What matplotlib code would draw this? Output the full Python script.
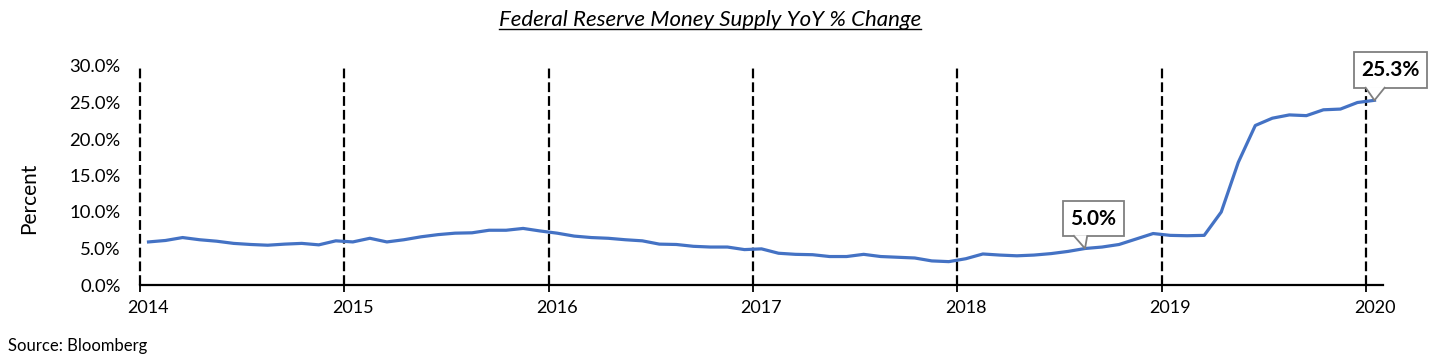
import matplotlib
matplotlib.use('Agg')
import matplotlib.pyplot as plt
import matplotlib.transforms as mtransforms
from matplotlib.patches import Polygon, Rectangle
from matplotlib.lines import Line2D
import numpy as np
import pandas as pd

# monthly YoY % change, Jan 2014 .. Jan 2020
yoy_2014 = [5.9, 6.1, 6.5, 6.2, 6.0, 5.7, 5.55, 5.45, 5.6, 5.7, 5.5, 6.05]
yoy_2015 = [5.9, 6.4, 5.9, 6.2, 6.6, 6.9, 7.1, 7.15, 7.5, 7.5, 7.75, 7.4]
yoy_2016 = [7.1, 6.7, 6.5, 6.4, 6.2, 6.05, 5.6, 5.55, 5.3, 5.2, 5.2, 4.85]
yoy_2017 = [4.95, 4.35, 4.2, 4.15, 3.9, 3.9, 4.2, 3.9, 3.8, 3.7, 3.3, 3.2]
yoy_2018 = [3.6, 4.25, 4.1, 4.0, 4.1, 4.3, 4.6, 5.0, 5.2, 5.55, 6.3, 7.05]
yoy_2019 = [6.8, 6.75, 6.8, 10.0, 16.8, 21.85, 22.85, 23.3, 23.2, 24.0, 24.1, 25.0]
yoy_2020 = [25.3]

years = [2014, 2015, 2016, 2017, 2018, 2019, 2020]
yticks = [0, 5, 10, 15, 20, 25, 30]

# callouts: (month, label)
callouts = [('2018-08', '5.0%'), ('2020-01', '25.3%')]

values = yoy_2014 + yoy_2015 + yoy_2016 + yoy_2017 + yoy_2018 + yoy_2019 + yoy_2020
dates = pd.date_range('2014-01-01', periods=len(values), freq='MS')
df = pd.DataFrame({'date': dates, 'yoy': values})
df['x'] = df['date'].dt.year + (df['date'].dt.month - 0.5) / 12.0

plt.rcParams['font.family'] = ['Lato', 'DejaVu Sans']

W, H = 1437, 357
fig = plt.figure(figsize=(W / 100, H / 100), dpi=100)
ax = fig.add_axes([140 / W, 1 - 285 / H, (1383 - 140) / W, (285 - 66) / H])

blue = '#4472C4'
ax.plot(df['x'], df['yoy'], color=blue, lw=2.3, solid_joinstyle='round', zorder=3)

for yr in years:
    ax.axvline(yr, color='black', lw=1.6, dashes=(4.4, 1.8), zorder=2, clip_on=False)

ax.set_xlim(years[0], years[-1] + 1 / 12)
ax.set_ylim(0, 30)
ax.set_yticks(yticks)
ax.set_yticklabels(['%.1f%%' % v for v in yticks])
ax.set_xticks(years)
ax.set_xticklabels([])
ax.set_xticks([y + 0.5 / 12 for y in years], minor=True)
ax.set_xticklabels([str(y) for y in years], minor=True)
ax.tick_params(axis='x', which='major', length=5, width=1.3, color='black')
ax.tick_params(axis='x', which='minor', length=0, pad=11, labelsize=13)
ax.tick_params(axis='y', length=0, pad=14, labelsize=13.3)

for s in ['top', 'right', 'left']:
    ax.spines[s].set_visible(False)
ax.spines['bottom'].set_linewidth(1.6)
ax.spines['bottom'].set_zorder(4)

fig.text(29 / W, 1 - 198 / H, 'Percent', rotation=90, ha='center', va='center', fontsize=15)
fig.text(8 / W, 1 - 346 / H, 'Source: Bloomberg', ha='left', va='center', fontsize=12)
title = fig.text(710 / W, 1 - 20 / H, 'Federal Reserve Money Supply YoY % Change',
                 ha='center', va='center', fontsize=16, style='italic')

# callout boxes with pointer, sizes in pixels relative to the data point
box_geo = {
    '5.0%': dict(dx=8.5, dy=29.6, w=61, h=35, wl=-11.7, wr=2.3, wh=12.3),
    '25.3%': dict(dx=16.2, dy=30, w=73, h=36, wl=-9.3, wr=10.7, wh=12.3),
}
edge = '#7F7F7F'
ident = mtransforms.IdentityTransform()
for month, label in callouts:
    row = df[df['date'] == pd.Timestamp(month + '-01')].iloc[0]
    tx, ty = ax.transData.transform((row['x'], row['yoy']))
    g = box_geo[label]
    cx, cy = tx + g['dx'], ty + g['dy']
    fig.patches.append(Rectangle((cx - g['w'] / 2, cy - g['h'] / 2), g['w'], g['h'],
                                 transform=ident, fc='white', ec=edge, lw=1.3, zorder=5))
    base = ty + g['wh']
    fig.patches.append(Polygon([(tx + g['wl'], base + 1), (tx, ty), (tx + g['wr'], base + 1)],
                               closed=False, transform=ident, fc='white', ec=edge, lw=1.3, zorder=6))
    fig.text(cx, cy, label, transform=ident, ha='center', va='center',
             fontsize=15, fontweight='bold', zorder=7)

fig.canvas.draw()
bb = title.get_window_extent()
fig.lines.append(Line2D([bb.x0, bb.x1], [bb.y0 + 1, bb.y0 + 1], transform=ident,
                        color='black', lw=1.0))

fig.savefig('out.png', dpi=100)
